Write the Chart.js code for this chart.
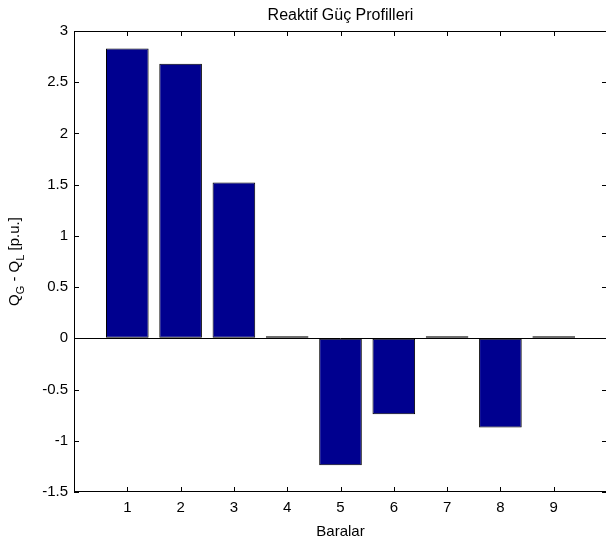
<!DOCTYPE html>
<html>
<head>
<meta charset="utf-8">
<script src="https://cdn.jsdelivr.net/npm/chart.js@4/dist/chart.umd.min.js"></script>
<style>
  html, body { margin: 0; padding: 0; overflow: hidden; background: #fff; }
  #wrap { width: 612px; height: 545px; }
</style>
</head>
<body>
<div id="wrap"><canvas id="c" width="612" height="545"></canvas></div>
<script>
var buses = [1, 2, 3, 4, 5, 6, 7, 8, 9];
var qDiff = [2.83, 2.68, 1.52, 0.02, -1.24, -0.74, 0.02, -0.87, 0.02];
var yTicks = [-1.5, -1, -0.5, 0, 0.5, 1, 1.5, 2, 2.5, 3];
var chartTitle = 'Reaktif Güç Profilleri';

var FONT = "'Liberation Sans', Arial, Helvetica, sans-serif";
Chart.defaults.font.family = FONT;
Chart.defaults.color = '#000';

// matlab style box + inward ticks + title centred on axes + y label with subscripts
var matlabAxes = {
    id: 'matlabAxes',
    afterDraw: function(chart) {
        var ctx = chart.ctx, a = chart.chartArea;
        var xs = chart.scales.x, ys = chart.scales.y;
        var len = 5;
        ctx.save();
        ctx.strokeStyle = '#000';
        ctx.lineWidth = 1;
        ctx.strokeRect(a.left + 0.5, a.top + 0.5, a.right - a.left - 1, a.bottom - a.top - 1);
        ctx.beginPath();
        buses.forEach(function(b) {
            var px = Math.round(xs.getPixelForValue(b)) + 0.5;
            ctx.moveTo(px, a.bottom); ctx.lineTo(px, a.bottom - len);
            ctx.moveTo(px, a.top); ctx.lineTo(px, a.top + len);
        });
        yTicks.forEach(function(t) {
            var py = Math.round(ys.getPixelForValue(t)) + 0.5;
            ctx.moveTo(a.left, py); ctx.lineTo(a.left + len, py);
            ctx.moveTo(a.right, py); ctx.lineTo(a.right - len, py);
        });
        ctx.stroke();

        ctx.fillStyle = '#000';
        ctx.font = '16px ' + FONT;
        ctx.textAlign = 'center';
        ctx.textBaseline = 'alphabetic';
        ctx.fillText(chartTitle, (a.left + a.right) / 2, 20);

        // y axis label: Q_G - Q_L [p.u.]
        var parts = [
            {t: 'Q', s: 15, d: 0},
            {t: 'G', s: 11, d: 5},
            {t: ' - Q', s: 15, d: 0},
            {t: 'L', s: 11, d: 5},
            {t: ' [p.u.]', s: 15, d: 0}
        ];
        var total = 0;
        parts.forEach(function(p) {
            ctx.font = p.s + 'px ' + FONT;
            p.w = ctx.measureText(p.t).width;
            total += p.w;
        });
        ctx.translate(19, (a.top + a.bottom) / 2);
        ctx.rotate(-Math.PI / 2);
        ctx.textAlign = 'left';
        var x = -total / 2;
        parts.forEach(function(p) {
            ctx.font = p.s + 'px ' + FONT;
            ctx.fillText(p.t, x, p.d);
            x += p.w;
        });
        ctx.restore();
    }
};

var ctx = document.getElementById('c').getContext('2d');
var chart = new Chart(ctx, {
    type: 'bar',
    data: {
        datasets: [{
            data: buses.map(function(b, i) { return {x: b, y: qDiff[i]}; }),
            backgroundColor: 'rgb(0,0,143)',
            borderColor: '#000',
            borderWidth: 1,
            borderSkipped: false,
            barPercentage: 0.8,
            categoryPercentage: 1.0
        }]
    },
    options: {
        responsive: false,
        animation: false,
        layout: { padding: { top: 31, right: 5, left: 0, bottom: 0 } },
        plugins: {
            legend: { display: false },
            tooltip: { enabled: false },
            title: { display: false }
        },
        scales: {
            x: {
                type: 'linear',
                min: 0,
                max: 10,
                offset: false,
                afterFit: function(s) { s.height = 53; },
                afterBuildTicks: function(s) {
                    s.ticks = buses.map(function(b) { return {value: b}; });
                },
                ticks: { font: { size: 15 }, padding: 7, color: '#000' },
                grid: { display: false, drawTicks: false, offset: false },
                border: { display: false },
                title: {
                    display: true,
                    text: 'Baralar',
                    font: { size: 15 },
                    color: '#000',
                    padding: { top: 0, bottom: 4 }
                }
            },
            y: {
                min: -1.5,
                max: 3,
                afterFit: function(s) { s.width = 74; },
                afterBuildTicks: function(s) {
                    s.ticks = yTicks.map(function(t) { return {value: t}; });
                },
                ticks: {
                    font: { size: 15 },
                    padding: 6,
                    color: '#000',
                    callback: function(v) { return String(v); }
                },
                grid: {
                    drawTicks: false,
                    lineWidth: 1,
                    color: function(c) { return c.tick && c.tick.value === 0 ? '#000' : 'rgba(0,0,0,0)'; }
                },
                border: { display: false }
            }
        }
    },
    plugins: [matlabAxes]
});
</script>
</body>
</html>
